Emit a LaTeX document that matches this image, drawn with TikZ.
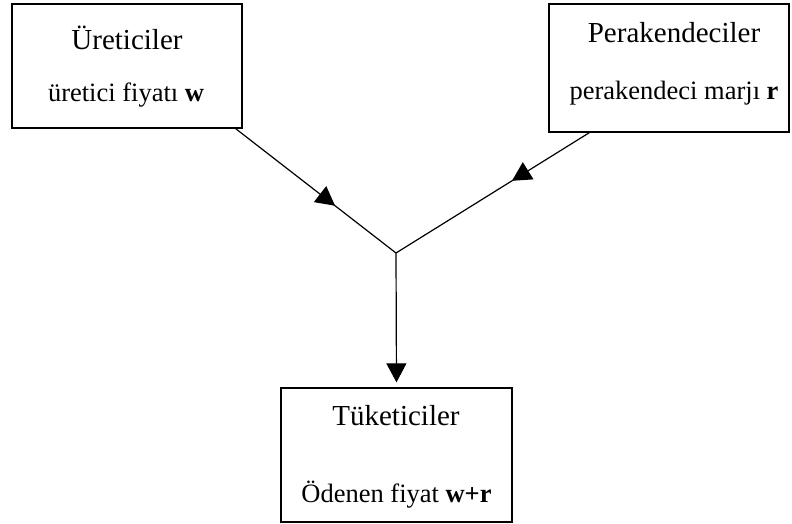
\documentclass[tikz,border=0pt]{standalone}
\usepackage{fontspec}
\setmainfont{Liberation Serif}
\usetikzlibrary{arrows.meta,decorations.markings}
\tikzset{
  party/.style={draw, line width=1.3pt, inner sep=0pt},
  partyname/.style={anchor=base, font=\fontsize{29}{33}\selectfont},
  partyprice/.style={anchor=base, font=\fontsize{26.5}{30}\selectfont},
  flow/.style={line width=1.2pt},
  midtip/.style={postaction={decorate}, decoration={markings,
      mark=at position #1 with {\arrow{Triangle[length=19pt,width=20pt]}}}},
}

\begin{document}
\begin{tikzpicture}[x=1pt, y=-1pt]
    \useasboundingbox (0,0) rectangle (792,524);
    % the three boxes
    \node[party, minimum width=230pt, minimum height=124pt] (prod) at (127,66) {};
    \node[party, minimum width=240pt, minimum height=128pt] (ret) at (669,68) {};
    \node[party, minimum width=231pt, minimum height=134pt] (cons) at (396.5,455) {};
    \node[partyname] (prodname) at (127,50) {Üreticiler};
    \node[partyprice] (prodprice) at (126,102) {üretici fiyatı \textbf{w}};
    \node[partyname] (retname) at (674,43) {Perakendeciler};
    \node[partyprice] (retprice) at (674,100) {perakendeci marjı \textbf{r}};
    \node[partyname] (consname) at (396,425) {Tüketiciler};
    \node[partyprice] (consprice) at (396.5,502) {Ödenen fiyat \textbf{w+r}};
    % flows
    \coordinate (join) at (396,253);
    \draw[flow, midtip=0.62] (prod.south east) ++(-7,0) -- (join);
    \draw[flow, midtip=0.4] (ret.south west) ++(41,0) -- (join);
    \draw[flow, -{Triangle[length=19pt,width=20pt]}, shorten >=5pt] (join) -- (cons.north);
  \end{tikzpicture}
\end{document}
